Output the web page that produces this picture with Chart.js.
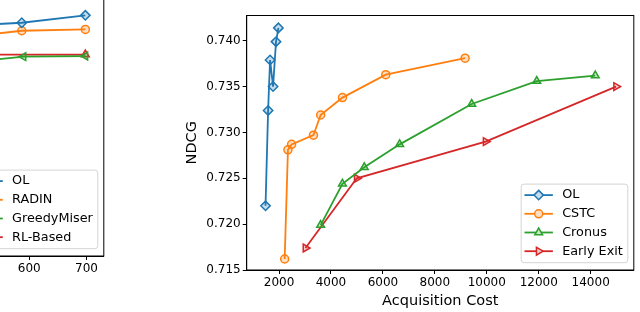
<!DOCTYPE html>
<html>
<head>
<meta charset="utf-8">
<script src="https://cdn.jsdelivr.net/npm/chart.js@4.4.1/dist/chart.umd.min.js"></script>
<style>
html, body { margin: 0; padding: 0; background: #fff; overflow: hidden; }
#wrap { position: relative; width: 640px; height: 312px; overflow: hidden; }
#left { position: absolute; left: -300px; top: -60px; }
#right { position: absolute; left: 0; top: 0; }
</style>
</head>
<body>
<div id="wrap">
  <canvas id="left" width="410" height="372"></canvas>
  <canvas id="right" width="640" height="312"></canvas>
</div>
<script>
// right panel: NDCG against acquisition cost
const olCost = [1481, 1580, 1656, 1771, 1885, 1977];
const olNdcg = [0.7220, 0.7324, 0.7379, 0.7350, 0.7399, 0.7414];
const cstcCost = [2218, 2344, 2485, 3325, 3603, 4443, 6111, 9165];
const cstcNdcg = [0.7162, 0.7281, 0.7287, 0.7297, 0.7319, 0.7338, 0.7363, 0.7381];
const cronusCost = [3603, 4443, 5283, 6645, 9420, 11924, 14176];
const cronusNdcg = [0.7199, 0.7244, 0.7262, 0.7287, 0.7331, 0.7356, 0.7362];
const exitCost = [3019, 4993, 9955, 14978];
const exitNdcg = [0.7174, 0.7250, 0.7290, 0.7350];
const costTicks = [2000, 4000, 6000, 8000, 10000, 12000, 14000];
const ndcgTicks = [0.715, 0.720, 0.725, 0.730, 0.735, 0.740];

// left panel, only its right end is inside the picture
const leftOlX = [480, 587, 698];
const leftOlY = [0.7054, 0.7076, 0.7126];
const radinX = [480, 587, 698];
const radinY = [0.6976, 0.7022, 0.7031];
const greedyX = [480, 590, 698];
const greedyY = [0.6803, 0.6847, 0.6851];
const rlX = [480, 698];
const rlY = [0.6861, 0.6861];
const leftTicks = [200, 300, 400, 500, 600, 700];

const FONT = '"DejaVu Sans", sans-serif';
Chart.defaults.font.family = FONT;
Chart.defaults.color = '#000';

const BLUE = ['#1f77b4', 'rgba(31,119,180,0.25)'];
const ORANGE = ['#ff7f0e', 'rgba(255,127,14,0.25)'];
const GREEN = ['#2ca02c', 'rgba(44,160,44,0.25)'];
const RED = ['#d62728', 'rgba(214,39,40,0.25)'];

const pts = (xs, ys) => xs.map((x, i) => ({ x: x, y: ys[i] }));

function series(label, xs, ys, col, style, rot, r) {
  return {
    label: label,
    data: pts(xs, ys),
    showLine: true,
    borderColor: col[0],
    backgroundColor: col[0],
    borderWidth: 1.8,
    pointStyle: style,
    pointRotation: rot,
    pointRadius: r,
    pointBorderWidth: 1.5,
    pointBorderColor: col[0],
    pointBackgroundColor: col[1]
  };
}

function drawMarker(ctx, ds, x, y) {
  const r = ds.pointRadius;
  ctx.save();
  ctx.translate(x, y);
  ctx.rotate(ds.pointRotation * Math.PI / 180);
  ctx.beginPath();
  if (ds.pointStyle === 'circle') {
    ctx.arc(0, 0, r, 0, Math.PI * 2);
  } else if (ds.pointStyle === 'rectRot') {
    ctx.moveTo(0, -r); ctx.lineTo(r, 0); ctx.lineTo(0, r); ctx.lineTo(-r, 0);
  } else {
    for (let k = 0; k < 3; k++) {
      const a = k * Math.PI * 2 / 3;
      ctx[k ? 'lineTo' : 'moveTo'](Math.sin(a) * r, -Math.cos(a) * r);
    }
  }
  ctx.closePath();
  ctx.fillStyle = '#fff';
  ctx.fill();
  ctx.fillStyle = ds.pointBackgroundColor;
  ctx.fill();
  ctx.strokeStyle = ds.pointBorderColor;
  ctx.lineWidth = ds.pointBorderWidth;
  ctx.stroke();
  ctx.restore();
}

// matplotlib style frame and legend box in the lower right corner
const frameAndLegend = {
  id: 'frameAndLegend',
  afterDraw(chart) {
    const ctx = chart.ctx;
    const a = chart.chartArea;
    ctx.save();
    ctx.strokeStyle = '#000';
    ctx.lineWidth = 1;
    ctx.strokeRect(a.left, a.top, a.right - a.left, a.bottom - a.top);

    const sets = chart.data.datasets;
    ctx.font = '12.8px ' + FONT;
    let maxW = 0;
    sets.forEach(ds => { maxW = Math.max(maxW, ctx.measureText(ds.label).width); });
    const boxR = a.right - 6;
    const boxB = a.bottom - 7.3;
    const textX = boxR - 5 - maxW;
    const lineEnd = textX - 9.3;
    const lineStart = lineEnd - 28.4;
    const boxL = lineStart - 3.3;
    const rowH = 18.7;
    const firstY = boxB - 11.5 - (sets.length - 1) * rowH;
    const boxT = firstY - 11;

    ctx.beginPath();
    ctx.roundRect(boxL, boxT, boxR - boxL, boxB - boxT, 3);
    ctx.fillStyle = 'rgba(255,255,255,0.8)';
    ctx.fill();
    ctx.strokeStyle = '#d4d4d4';
    ctx.stroke();

    sets.forEach((ds, i) => {
      const y = firstY + i * rowH;
      ctx.beginPath();
      ctx.moveTo(lineStart, y);
      ctx.lineTo(lineEnd, y);
      ctx.strokeStyle = ds.borderColor;
      ctx.lineWidth = ds.borderWidth;
      ctx.stroke();
      drawMarker(ctx, ds, (lineStart + lineEnd) / 2, y);
      ctx.fillStyle = '#000';
      ctx.textBaseline = 'middle';
      ctx.textAlign = 'left';
      ctx.fillText(ds.label, textX, y);
    });
    ctx.restore();
  }
};

const tickFont = { size: 12, family: FONT };
const gridStyle = { drawOnChartArea: false, tickLength: 4, color: '#000' };

new Chart(document.getElementById('left'), {
  type: 'scatter',
  data: {
    datasets: [
      series('OL', leftOlX, leftOlY, BLUE, 'rectRot', 0, 4.7),
      series('RADIN', radinX, radinY, ORANGE, 'circle', 0, 4),
      series('GreedyMiser', greedyX, greedyY, GREEN, 'triangle', -90, 4.5),
      series('RL-Based', rlX, rlY, RED, 'triangle', 0, 4.5)
    ]
  },
  options: {
    responsive: false,
    animation: false,
    layout: { padding: { left: 0, top: 20, right: 4.3, bottom: 0 } },
    plugins: { legend: { display: false }, tooltip: { enabled: false } },
    scales: {
      x: {
        type: 'linear', min: 112.7, max: 730.2,
        afterBuildTicks: s => { s.ticks = leftTicks.map(v => ({ value: v })); },
        afterFit: s => { s.height = 56; },
        ticks: { font: tickFont, color: '#000', padding: 2, maxRotation: 0, autoSkip: false, callback: v => String(v) },
        grid: gridStyle,
        border: { color: '#000' }
      },
      y: {
        type: 'linear', min: 0.55, max: 0.75,
        afterFit: s => { s.width = 50; },
        ticks: { display: false },
        grid: gridStyle,
        border: { color: '#000' }
      }
    }
  },
  plugins: [frameAndLegend]
});

new Chart(document.getElementById('right'), {
  type: 'scatter',
  data: {
    datasets: [
      series('OL', olCost, olNdcg, BLUE, 'rectRot', 0, 4.7),
      series('CSTC', cstcCost, cstcNdcg, ORANGE, 'circle', 0, 4),
      series('Cronus', cronusCost, cronusNdcg, GREEN, 'triangle', 0, 4.5),
      series('Early Exit', exitCost, exitNdcg, RED, 'triangle', 90, 4.5)
    ]
  },
  options: {
    responsive: false,
    animation: false,
    layout: { padding: { left: 180, top: 15.5, right: 2.5, bottom: 0 } },
    plugins: { legend: { display: false }, tooltip: { enabled: false } },
    scales: {
      x: {
        type: 'linear', min: 756, max: 15660,
        afterBuildTicks: s => { s.ticks = costTicks.map(v => ({ value: v })); },
        afterFit: s => { s.height = 42; },
        ticks: { font: tickFont, color: '#000', padding: 2, maxRotation: 0, autoSkip: false, callback: v => String(v) },
        grid: gridStyle,
        border: { color: '#000' },
        title: { display: true, text: 'Acquisition Cost', color: '#000', font: { size: 14.5, family: FONT }, padding: { top: 0, bottom: 1.6 } }
      },
      y: {
        type: 'linear', min: 0.715, max: 0.74275,
        afterBuildTicks: s => { s.ticks = ndcgTicks.map(v => ({ value: v })); },
        afterFit: s => { s.width = 66.7; },
        ticks: { font: tickFont, color: '#000', padding: 2, callback: v => v.toFixed(3) },
        grid: gridStyle,
        border: { color: '#000' },
        title: { display: true, text: 'NDCG', color: '#000', font: { size: 14.5, family: FONT }, padding: { top: 4, bottom: 0 } }
      }
    }
  },
  plugins: [frameAndLegend]
});
</script>
</body>
</html>
